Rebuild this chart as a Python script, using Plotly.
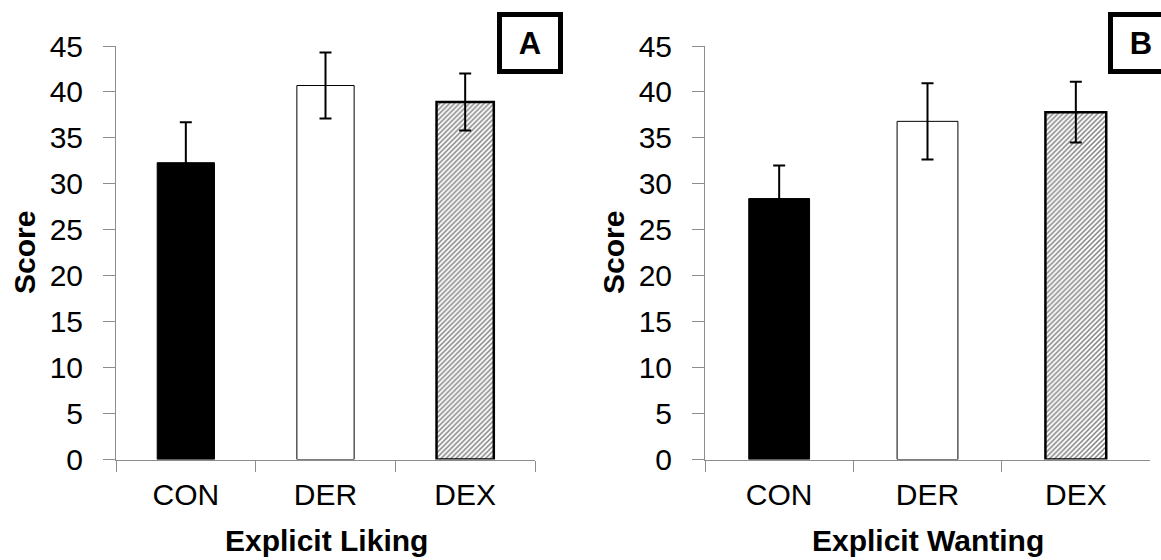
import plotly.graph_objects as go

categories = ["CON", "DER", "DEX"]
liking_means = [32.3, 40.7, 38.9]
liking_errors = [4.4, 3.6, 3.1]
wanting_means = [28.4, 36.8, 37.8]
wanting_errors = [3.6, 4.15, 3.3]
y_ticks = [0, 5, 10, 15, 20, 25, 30, 35, 40, 45]

W, H = 1161, 560
FONT = "Liberation Sans, Arial, sans-serif"

fills = ["#000000", "#ffffff", "#ffffff"]
line_w = [1, 1, 2.5]
patterns = ["", "", "/"]

fig = go.Figure()

def add_panel(means, errors, xaxis, yaxis):
    for i, cat in enumerate(categories):
        fig.add_trace(go.Bar(
            x=[cat], y=[means[i]], width=0.41,
            xaxis=xaxis, yaxis=yaxis,
            marker=dict(color=fills[i], line=dict(color="#000000", width=line_w[i]),
                        pattern=dict(shape=patterns[i], fgcolor="#000000", bgcolor="#ffffff",
                                     size=3.5, solidity=0.42, fillmode="overlay")),
            error_y=dict(type="data", array=[errors[i]], visible=True,
                         color="#000000", thickness=2, width=6),
            showlegend=False, hoverinfo="skip",
        ))

add_panel(liking_means, liking_errors, "x", "y")
add_panel(wanting_means, wanting_errors, "x2", "y2")

def px(x):
    return x / W

def py(y):
    return 1 - y / H

ydom = [py(459.5), py(46)]
axis_common = dict(showline=True, linecolor="#8c8c8c", linewidth=1, showgrid=False,
                   zeroline=False, ticks="outside", tickcolor="#8c8c8c", tickwidth=1,
                   automargin=False,
                   tickfont=dict(family=FONT, size=30, color="#000000"))

fig.update_layout(
    width=W, height=H, margin=dict(l=0, r=0, t=0, b=0, pad=0),
    paper_bgcolor="#ffffff", plot_bgcolor="#ffffff",
    barmode="overlay",
    xaxis=dict(domain=[px(116), px(535)], anchor="y", tickson="boundaries", ticklen=11,
               ticklabelstandoff=8, **axis_common),
    yaxis=dict(domain=ydom, anchor="x", range=[0, 45], tickvals=y_ticks, ticklen=12,
               ticklabelstandoff=14, **axis_common),
    xaxis2=dict(domain=[px(705), px(1150)], anchor="y2", tickson="boundaries", ticklen=11,
                ticklabelstandoff=8, **axis_common),
    yaxis2=dict(domain=ydom, anchor="x2", range=[0, 45], tickvals=y_ticks, ticklen=12,
                ticklabelstandoff=14, **axis_common),
)

title_font = dict(family=FONT, size=30, color="#000000")
annos = [
    dict(text="<b>Explicit Liking</b>", x=px(326), y=py(540), xanchor="center", yanchor="middle"),
    dict(text="<b>Explicit Wanting</b>", x=px(928), y=py(540), xanchor="center", yanchor="middle"),
    dict(text="<b>Score</b>", x=px(25), y=py(253), xanchor="center", yanchor="middle", textangle=-90),
    dict(text="<b>Score</b>", x=px(614), y=py(253), xanchor="center", yanchor="middle", textangle=-90),
]
for a in annos:
    fig.add_annotation(xref="paper", yref="paper", showarrow=False, font=title_font, **a)

for label, cx in [("A", 530), ("B", 1141)]:
    fig.add_annotation(text="<b>%s</b>" % label, xref="paper", yref="paper",
                       x=px(cx), y=py(43), xanchor="center", yanchor="middle",
                       showarrow=False, font=dict(family=FONT, size=31, color="#000000"),
                       width=50, height=46, borderwidth=5, bordercolor="#000000",
                       borderpad=3, bgcolor="#ffffff")

fig.write_html("out.html", config={"displayModeBar": False},
               post_script="document.body.style.margin='0';document.body.style.overflow='hidden';")
